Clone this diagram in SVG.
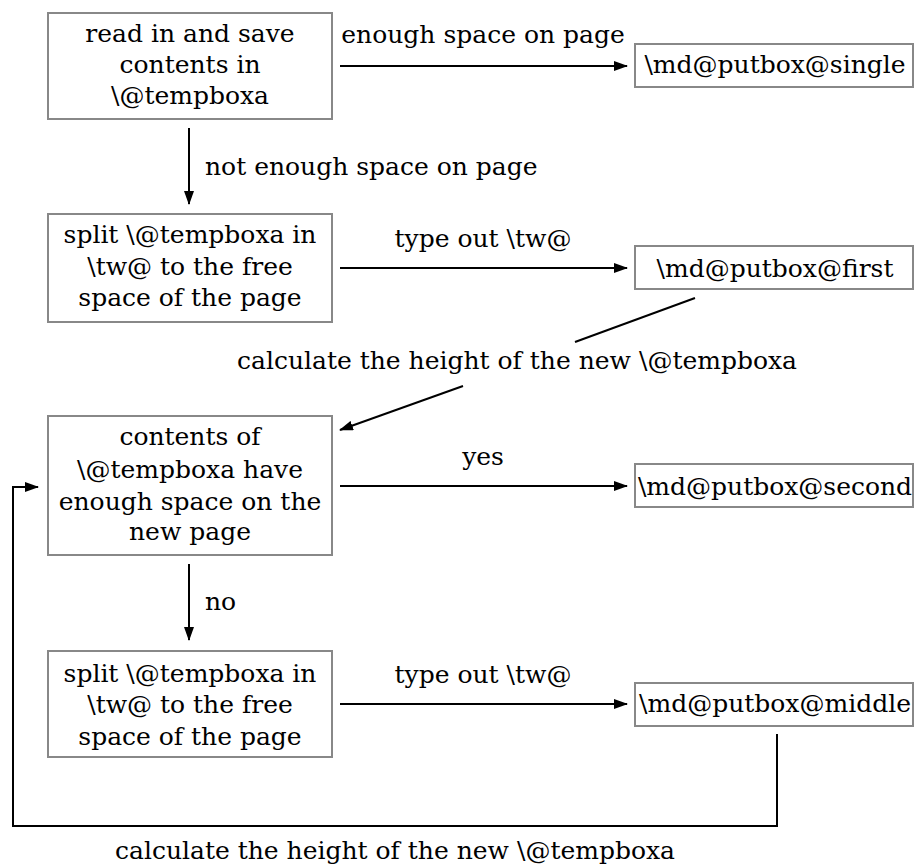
<svg xmlns="http://www.w3.org/2000/svg" width="914" height="868" viewBox="0 0 914 868">
<defs>
<style>
text{font-family:"DejaVu Serif","Liberation Serif",serif;font-size:25px;fill:#000}
.c{text-anchor:middle}
.box{fill:#fff;stroke:#888;stroke-width:2}
.ln{fill:none;stroke:#000;stroke-width:2}
</style>
<marker id="ah" markerWidth="14" markerHeight="10" refX="13" refY="5" orient="auto" markerUnits="userSpaceOnUse"><path d="M0,0 L14,5 L0,10 z" fill="#000"/></marker>
</defs>
<rect width="914" height="868" fill="#fff"/>
<g id="connectors">
<line class="ln" x1="340" y1="66" x2="627" y2="66" marker-end="url(#ah)"/>
<text class="c" x="483" y="43">enough space on page</text>
<line class="ln" x1="189" y1="128" x2="189" y2="204" marker-end="url(#ah)"/>
<text x="205" y="175">not enough space on page</text>
<line class="ln" x1="340" y1="268" x2="627" y2="268" marker-end="url(#ah)"/>
<text class="c" x="483" y="247">type out \tw@</text>
<line class="ln" x1="695" y1="298" x2="575" y2="342"/>
<line class="ln" x1="463" y1="386" x2="340" y2="430" marker-end="url(#ah)"/>
<text class="c" x="517" y="369">calculate the height of the new \@tempboxa</text>
<line class="ln" x1="340" y1="486" x2="627" y2="486" marker-end="url(#ah)"/>
<text class="c" x="483" y="465">yes</text>
<line class="ln" x1="189" y1="564" x2="189" y2="640" marker-end="url(#ah)"/>
<text x="205" y="610">no</text>
<line class="ln" x1="340" y1="704" x2="627" y2="704" marker-end="url(#ah)"/>
<text class="c" x="483" y="683">type out \tw@</text>
<polyline class="ln" points="777,734 777,826 13,826 13,487 38,487" marker-end="url(#ah)"/>
<text class="c" x="395" y="859">calculate the height of the new \@tempboxa</text>
</g>
<g id="n-read">
<rect class="box" x="48" y="13" width="284" height="106"/>
<text class="c" x="190" y="42">read in and save</text>
<text class="c" x="190" y="73">contents in</text>
<text class="c" x="190" y="104">\@tempboxa</text>
</g>
<g id="n-single">
<rect class="box" x="635" y="44" width="278" height="43"/>
<text class="c" x="775" y="73">\md@putbox@single</text>
</g>
<g id="n-split1">
<rect class="box" x="48" y="214" width="284" height="108"/>
<text class="c" x="190" y="243">split \@tempboxa in</text>
<text class="c" x="190" y="275">\tw@ to the free</text>
<text class="c" x="190" y="306">space of the page</text>
</g>
<g id="n-first">
<rect class="box" x="635" y="246" width="278" height="43"/>
<text class="c" x="775" y="277">\md@putbox@first</text>
</g>
<g id="n-contents">
<rect class="box" x="48" y="416" width="284" height="139"/>
<text class="c" x="190" y="445">contents of</text>
<text class="c" x="190" y="478">\@tempboxa have</text>
<text class="c" x="190" y="510">enough space on the</text>
<text class="c" x="190" y="540">new page</text>
</g>
<g id="n-second">
<rect class="box" x="635" y="464" width="278" height="43"/>
<text class="c" x="775" y="495">\md@putbox@second</text>
</g>
<g id="n-split2">
<rect class="box" x="48" y="651" width="284" height="106"/>
<text class="c" x="190" y="682">split \@tempboxa in</text>
<text class="c" x="190" y="713">\tw@ to the free</text>
<text class="c" x="190" y="745">space of the page</text>
</g>
<g id="n-middle">
<rect class="box" x="635" y="683" width="278" height="43"/>
<text class="c" x="775" y="712">\md@putbox@middle</text>
</g>
</svg>
